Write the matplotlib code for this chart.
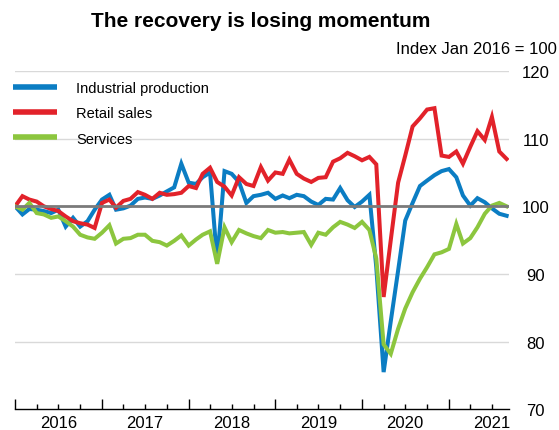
import matplotlib

matplotlib.use("Agg")
import matplotlib.dates as mdates
import matplotlib.pyplot as plt
import pandas as pd
from matplotlib.ticker import FuncFormatter

plt.rcParams["font.family"] = ["Liberation Sans", "DejaVu Sans"]

# Monthly index values, Jan 2016 = 100
months = pd.date_range("2016-01-01", periods=69, freq="MS")

industrial = [
    100.0, 98.8, 99.6, 99.5, 99.3, 99.0, 99.5, 97.0, 98.3, 97.0, 97.8, 99.5,
    101.0, 101.7, 99.5, 99.7, 100.1, 101.1, 101.3, 101.1, 101.6, 102.2, 102.8, 106.3,
    103.5, 103.3, 104.3, 105.0, 91.8, 105.2, 104.8, 103.6, 100.5, 101.5, 101.7, 102.0,
    101.1, 101.6, 101.2, 101.7, 101.5, 100.7, 100.2, 101.1, 101.0, 102.7, 100.9, 99.9,
    100.7, 101.7, 91.0, 75.5, 83.0, 90.5, 97.9, 100.5, 103.0, 103.8, 104.6, 105.2,
    105.5, 104.3, 101.6, 100.1, 101.2, 100.6, 99.7, 98.9, 98.6,
]
retail = [
    100.0, 101.5, 101.0, 100.7, 100.0, 99.6, 99.3, 98.5, 97.8, 97.5, 97.3, 96.8,
    100.5, 101.0, 99.8, 100.8, 101.1, 102.1, 101.7, 101.1, 102.0, 101.7, 101.8, 102.0,
    103.0, 102.7, 104.8, 105.7, 103.6, 102.9, 101.6, 104.3, 103.3, 103.0, 105.8, 103.8,
    105.0, 104.8, 106.9, 104.8, 104.1, 103.6, 104.2, 104.3, 106.6, 107.1, 107.9, 107.4,
    106.8, 107.3, 106.2, 86.6, 95.0, 103.5, 107.5, 111.8, 113.0, 114.3, 114.5, 107.5,
    107.3, 108.1, 106.3, 108.8, 111.1, 109.8, 113.2, 108.1, 107.0,
]
services = [
    100.0, 99.5, 100.5, 99.0, 98.8, 98.3, 98.5, 97.8, 97.0, 95.8, 95.4, 95.2,
    96.1, 97.2, 94.5, 95.2, 95.3, 95.8, 95.8, 94.9, 94.7, 94.2, 94.9, 95.7,
    94.2, 95.1, 95.8, 96.3, 91.5, 96.9, 94.7, 96.5, 96.0, 95.6, 95.3, 96.5,
    96.1, 96.2, 96.0, 96.1, 96.2, 94.3, 96.1, 95.8, 96.9, 97.7, 97.3, 96.8,
    97.7, 96.5, 92.3, 79.6, 78.2, 81.9, 84.9, 87.3, 89.3, 91.0, 92.9, 93.2,
    93.7, 97.4, 94.5, 95.3, 96.9, 98.9, 100.1, 100.5, 100.0,
]

series_names = ["Industrial production", "Retail sales", "Services"]
series_colors = ["#0b7dc3", "#e2222a", "#8cc63e"]
y_ticks = [70, 80, 90, 100, 110, 120]


def main():
    fig = plt.figure(figsize=(5.59, 4.31), dpi=100)
    ax = fig.add_axes([0.027, 0.048, 0.884, 0.785])

    for values, name, color in zip(
        [industrial, retail, services], series_names, series_colors
    ):
        ax.plot(months, values, color=color, lw=2.9, label=name,
                solid_joinstyle="miter", zorder=3)

    # reference line at 100 sits on top of the series
    ax.axhline(100, color="#7a7a7a", lw=2.0, zorder=4)
    for y in [80, 90, 110, 120]:
        ax.axhline(y, color="#d9d9d9", lw=1.0, zorder=1)

    ax.set_ylim(70, 120)
    ax.set_xlim(pd.Timestamp("2016-01-01"), pd.Timestamp("2021-09-12"))

    ax.yaxis.tick_right()
    ax.set_yticks(y_ticks)
    ax.tick_params(axis="y", length=0, pad=19, labelsize=12)
    for lab in ax.get_yticklabels():
        lab.set_horizontalalignment("center")

    ax.xaxis.set_major_locator(mdates.YearLocator())
    ax.xaxis.set_major_formatter(FuncFormatter(lambda v, p: ""))
    ax.xaxis.set_minor_locator(mdates.MonthLocator(bymonth=[4, 7, 10]))
    ax.xaxis.set_minor_formatter(
        FuncFormatter(
            lambda v, p: str(mdates.num2date(v).year)
            if mdates.num2date(v).month == 7 else ""
        )
    )
    ax.tick_params(axis="x", which="major", direction="in", length=7, width=1)
    ax.tick_params(axis="x", which="minor", direction="in", length=3.5, width=1,
                   labelsize=12, pad=4)

    for side in ["top", "left", "right"]:
        ax.spines[side].set_visible(False)
    ax.spines["bottom"].set_linewidth(1.0)

    leg = ax.legend(
        loc="upper left", bbox_to_anchor=(-0.030, 1.008), frameon=False,
        fontsize=10.5, handlelength=3.0, handletextpad=1.3, labelspacing=0.76,
    )
    for line in leg.get_lines():
        line.set_linewidth(4)
        line.set_solid_capstyle("butt")

    fig.text(0.467, 0.949, "The recovery is losing momentum", ha="center",
             va="center", fontsize=15, fontweight="bold")
    fig.text(0.997, 0.886, "Index Jan 2016 = 100", ha="right", va="center",
             fontsize=12)

    fig.savefig("out.png", dpi=100)
    plt.close(fig)


if __name__ == "__main__":
    main()
